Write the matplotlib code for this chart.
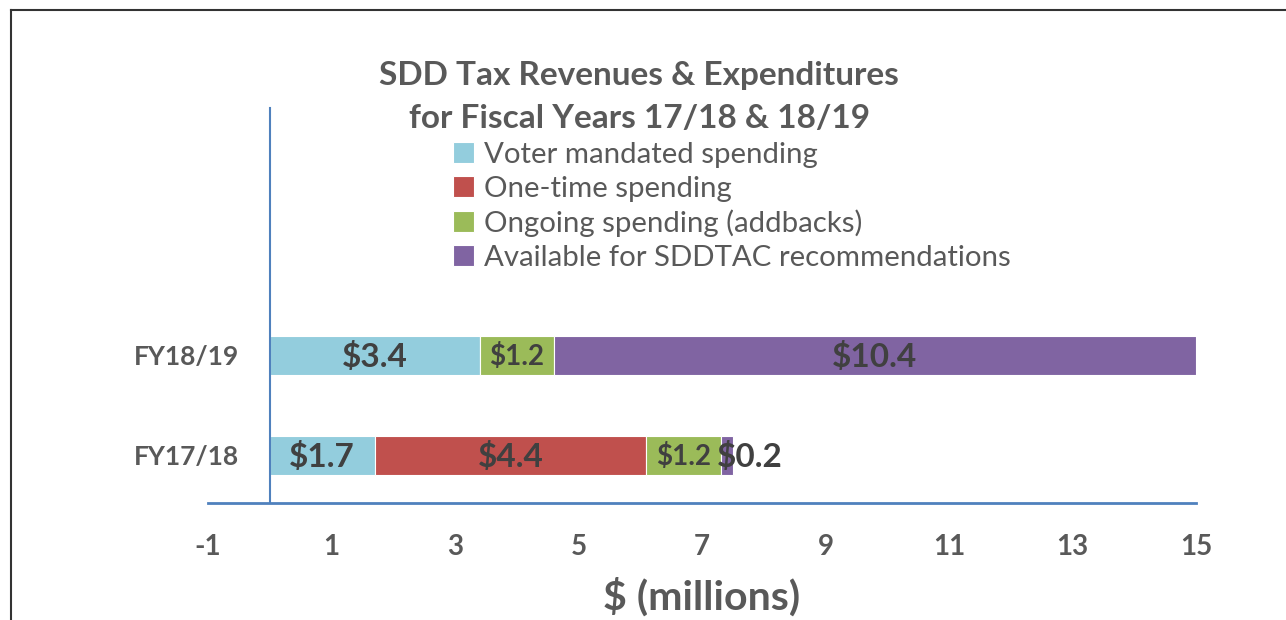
import matplotlib
matplotlib.use("Agg")
import matplotlib.pyplot as plt
from matplotlib.lines import Line2D
import numpy as np

categories = ["FY17/18", "FY18/19"]
series_names = ["Voter mandated spending", "One-time spending",
                "Ongoing spending (addbacks)", "Available for SDDTAC recommendations"]
voter = [1.7, 3.4]
one_time = [4.4, 0.0]
ongoing = [1.2, 1.2]
available = [0.2, 10.4]
x_ticks = [-1, 1, 3, 5, 7, 9, 11, 13, 15]

colors = ["#93CDDD", "#C0504D", "#9BBB59", "#8064A2"]
label_sizes = [[24, 24], [24, 24], [20, 20], [24, 24]]

plt.rcParams['font.family'] = ['Lato', 'DejaVu Sans']

fig = plt.figure(figsize=(12.86, 6.2), dpi=100)
ax = fig.add_axes([208/1286, 1-503/620, (1196-208)/1286, 395/620])

ax.spines["top"].set_visible(False)
ax.spines["right"].set_visible(False)
ax.spines["left"].set_position(("data", 0))
ax.spines["left"].set_color("#4F81BD")
ax.spines["bottom"].set_color("#4F81BD")
ax.spines["left"].set_linewidth(1.5)
ax.spines["bottom"].set_linewidth(2)

y = np.arange(len(categories))
left = np.zeros(len(categories))
all_series = [voter, one_time, ongoing, available]
for s_i, (vals, name, col) in enumerate(zip(all_series, series_names, colors)):
    vals = np.array(vals, dtype=float)
    ax.barh(y, vals, left=left, height=0.39, color=col, edgecolor="white",
            linewidth=0.8, label=name)
    for j, v in enumerate(vals):
        if v <= 0:
            continue
        txt = f"${v:.1f}"
        if v < 0.5:
            ax.text(left[j] - 0.06, y[j] - 0.02, txt, ha="left", va="center",
                    fontsize=label_sizes[s_i][j], fontweight="bold", color="#404040")
        else:
            ax.text(left[j] + v/2, y[j] - 0.02, txt, ha="center", va="center",
                    fontsize=label_sizes[s_i][j], fontweight="bold", color="#404040")
    left += vals

ax.set_xlim(-1, 15)
ax.set_ylim(-0.48, 3.47)
ax.tick_params(axis="both", length=0, colors="#595959")
ax.tick_params(axis="x", pad=22)
ax.tick_params(axis="y", pad=22)
ax.set_xticks(x_ticks)
ax.set_xticklabels([str(t) for t in x_ticks], fontsize=20, fontweight="bold", color="#595959")
ax.set_yticks(y)
ax.set_yticklabels(categories, fontsize=19, fontweight="bold", color="#595959")

ax.set_xlabel("$ (millions)", fontsize=29.5, fontweight="bold", color="#595959", labelpad=13)

fig.text(0.497, 1-75/620, "SDD Tax Revenues & Expenditures", ha="center", va="center",
         fontsize=24, fontweight="bold", color="#595959")
fig.text(0.497, 1-119/620, "for Fiscal Years 17/18 & 18/19", ha="center", va="center",
         fontsize=24, fontweight="bold", color="#595959")

leg = ax.legend(loc="upper left", bbox_to_anchor=(453/1286, 1-142/620),
                bbox_transform=fig.transFigure, frameon=False, fontsize=21.2,
                handlelength=0.7, handleheight=0.7, handletextpad=0.35,
                labelspacing=0.26, borderaxespad=0, borderpad=0)
for t in leg.get_texts():
    t.set_color("#595959")

fig.add_artist(Line2D([11/1286, 11/1286], [0, 1-10/620], color="#333333", lw=1.5,
                      transform=fig.transFigure))
fig.add_artist(Line2D([11/1286, 1], [1-10/620, 1-10/620], color="#333333", lw=1.5,
                      transform=fig.transFigure))

fig.savefig("out.png", dpi=100)
